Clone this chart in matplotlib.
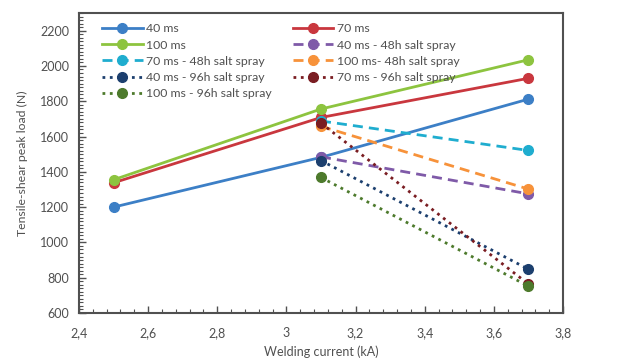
import matplotlib
matplotlib.use("Agg")
import matplotlib.pyplot as plt
from matplotlib.ticker import MultipleLocator, FuncFormatter

plt.rcParams['font.family'] = ['Lato', 'DejaVu Sans']

current = [2.5, 3.1, 3.7]
current_salt = [3.1, 3.7]

ms40 = [1200, 1482, 1812]
ms70 = [1338, 1708, 1930]
ms100 = [1355, 1756, 2035]
ms40_48h = [1485, 1275]
ms70_48h = [1688, 1521]
ms100_48h = [1658, 1302]
ms40_96h = [1464, 848]
ms70_96h = [1676, 764]
ms100_96h = [1368, 752]

labels = ["40 ms", "70 ms", "100 ms", "40 ms - 48h salt spray",
          "70 ms - 48h salt spray", "100 ms- 48h salt spray",
          "40 ms - 96h salt spray", "70 ms - 96h salt spray",
          "100 ms - 96h salt spray"]

fig = plt.figure(figsize=(6.4, 3.59), dpi=100)
ax = fig.add_axes([79/640, 1-313/359, (563-79)/640, (313-13)/359])

lw = 2.0
ms = 7
dsh = (3.6, 2.2)
h = {}
h[0], = ax.plot(current, ms40, '-o', color='#3C7FC6', lw=lw, ms=ms, label=labels[0])
h[1], = ax.plot(current, ms70, '-o', color='#C9373E', lw=lw, ms=ms, label=labels[1])
h[2], = ax.plot(current, ms100, '-o', color='#8DC43F', lw=lw, ms=ms, label=labels[2])
h[3], = ax.plot(current_salt, ms40_48h, '--o', color='#7F5AA8', lw=lw, ms=ms, dashes=dsh, label=labels[3])
h[4], = ax.plot(current_salt, ms70_48h, '--o', color='#1FADCF', lw=lw, ms=ms, dashes=dsh, label=labels[4])
h[5], = ax.plot(current_salt, ms100_48h, '--o', color='#F7923A', lw=lw, ms=ms, dashes=dsh, label=labels[5])
h[6], = ax.plot(current_salt, ms40_96h, ':o', color='#1C3F6E', lw=lw, ms=ms, label=labels[6])
h[7], = ax.plot(current_salt, ms70_96h, ':o', color='#7A1D22', lw=lw, ms=ms, label=labels[7])
h[8], = ax.plot(current_salt, ms100_96h, ':o', color='#4D7A2C', lw=lw, ms=ms, label=labels[8])

ax.set_xlim(2.4, 3.8)
ax.set_ylim(600, 2300)
ax.set_yticks(range(600, 2201, 200))
ax.xaxis.set_major_locator(MultipleLocator(0.2))
ax.xaxis.set_minor_locator(MultipleLocator(0.04))
ax.yaxis.set_minor_locator(MultipleLocator(20))

def xfmt(v, p):
    s = ('%.1f' % v)
    if s.endswith('.0'):
        s = s[:-2]
    return s.replace('.', ',')
ax.xaxis.set_major_formatter(FuncFormatter(xfmt))

tc = '#505050'
ax.tick_params(axis='both', which='major', direction='in', length=5, width=1, colors=tc, labelsize=9, labelcolor=tc)
ax.tick_params(axis='both', which='minor', direction='in', length=3, width=0.8, colors=tc)
ax.tick_params(axis='x', pad=10)
ax.tick_params(axis='y', pad=7)
for s in ax.spines.values():
    s.set_color(tc)
    s.set_linewidth(1.5)

ax.set_xlabel('Welding current (kA)', fontsize=9, color=tc, labelpad=5)
ax.set_ylabel('Tensile-shear peak load (N)', fontsize=8.8, color=tc, labelpad=9)

order = [0, 2, 4, 6, 8, 1, 3, 5, 7]
ax.legend([h[i] for i in order], [labels[i] for i in order], ncol=2, loc='upper left',
          bbox_to_anchor=(0.048, 0.965), frameon=False, fontsize=8.8,
          borderpad=0, borderaxespad=0,
          handlelength=3.3, columnspacing=1.7, labelspacing=0.42, handletextpad=0.3,
          labelcolor=tc)

fig.savefig('out.png', dpi=100)
